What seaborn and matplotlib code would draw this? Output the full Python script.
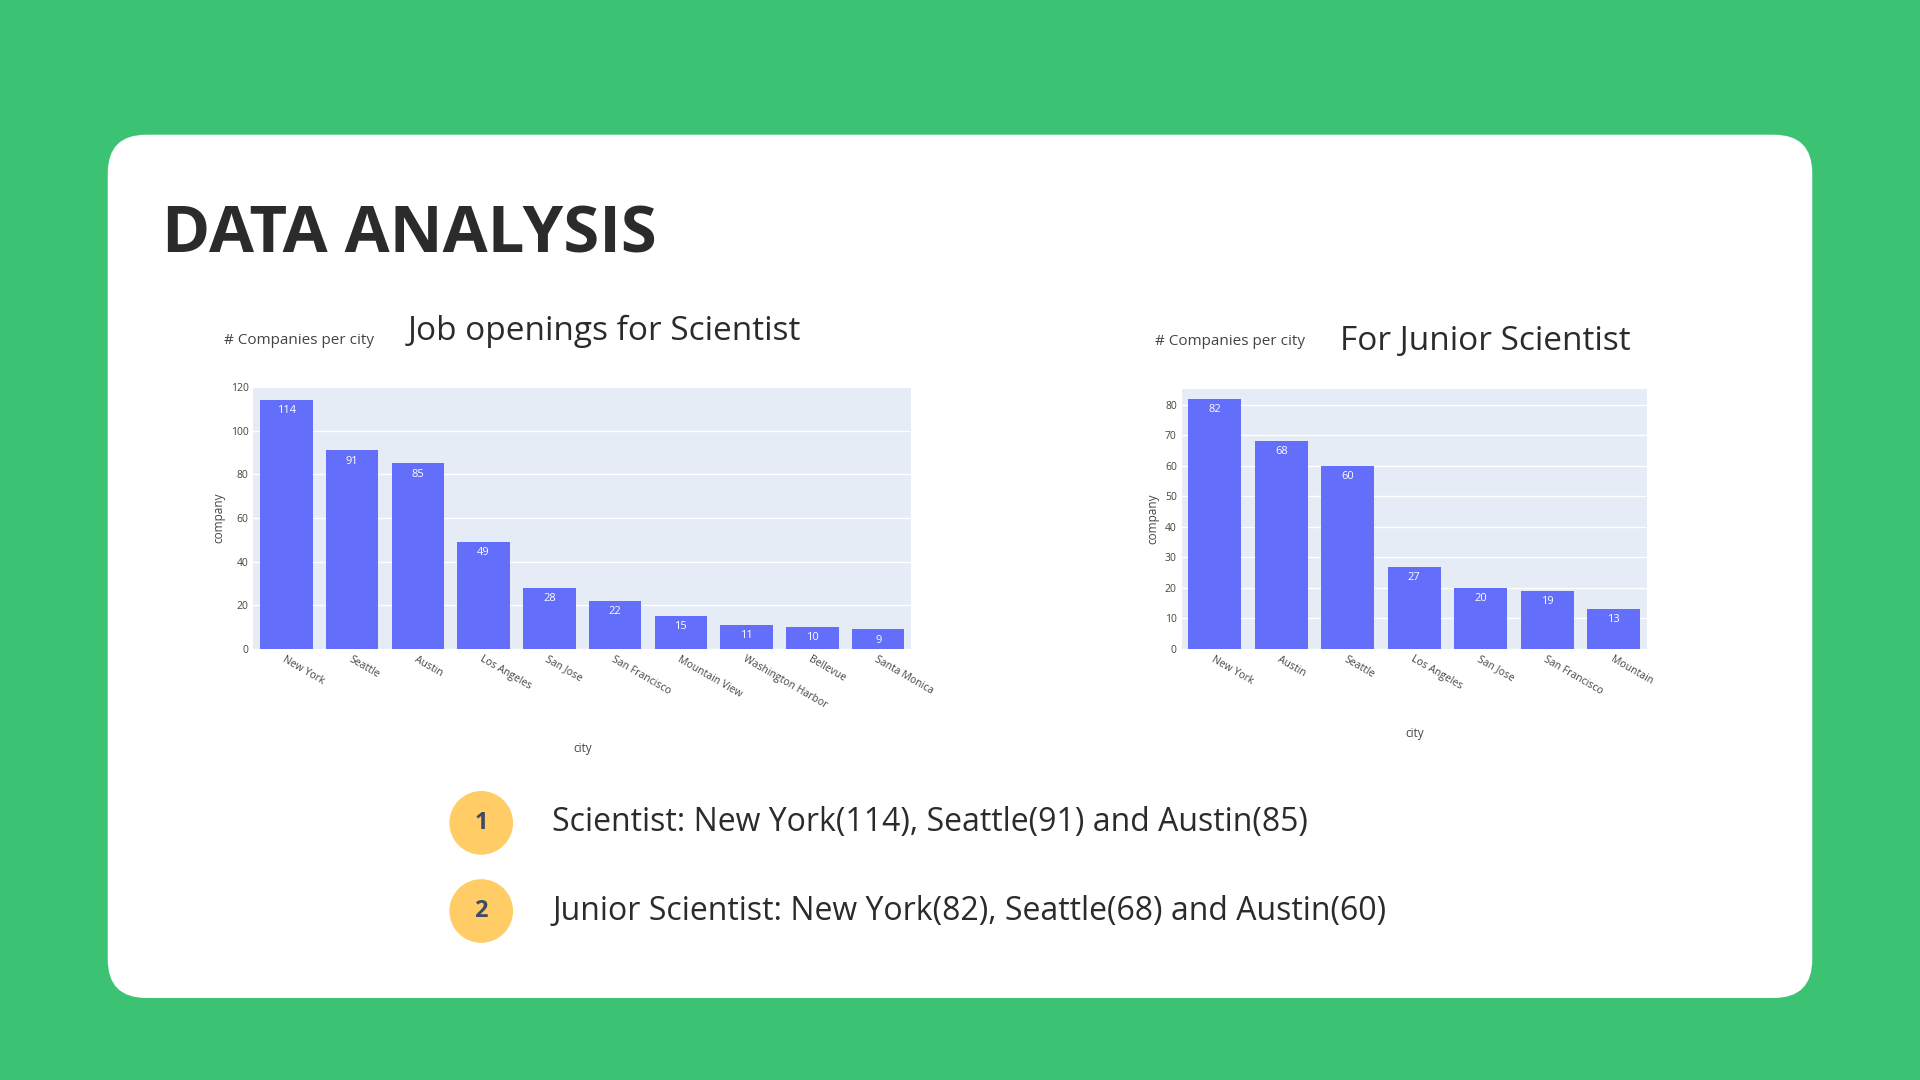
import matplotlib.pyplot as plt
import matplotlib.patches as mpatches
import pandas as pd
import seaborn as sns

# ── data ──
sci_cities = ["New York", "Seattle", "Austin", "Los Angeles", "San Jose", "San Francisco",
              "Mountain View", "Washington Harbor", "Bellevue", "Santa Monica"]
sci_counts = [114, 91, 85, 49, 28, 22, 15, 11, 10, 9]
jr_cities = ["New York", "Austin", "Seattle", "Los Angeles", "San Jose", "San Francisco", "Mountain"]
jr_counts = [82, 68, 60, 27, 20, 19, 13]
bullets = ["Scientist: New York(114), Seattle(91) and Austin(85)",
           "Junior Scientist: New York(82), Seattle(68) and Austin(60)"]

GREEN = "#3BC273"
BAR = "#636EFA"
W, H = 1568, 882  # reference layout units

plt.rcParams["font.family"] = ["Open Sans", "DejaVu Sans"]
fig = plt.figure(figsize=(19.2, 10.8), dpi=100)
fig.patch.set_facecolor(GREEN)

card = mpatches.FancyBboxPatch((88 / W, 1 - 815 / H), (1480 - 88) / W, (815 - 110) / H,
                               boxstyle="round,pad=0,rounding_size=0.02",
                               transform=fig.transFigure, facecolor="white",
                               edgecolor="none", mutation_aspect=W / H, zorder=-10)
fig.patches.append(card)

fig.text(132 / W, 1 - 193 / H, "DATA ANALYSIS", fontsize=47, fontweight="bold",
         color="#2b2b2b", va="center")


def bar_panel(rect, cities, counts, ymax, ticks, title, title_x, title_y, note_x, note_y):
    ax = fig.add_axes(rect)
    df = pd.DataFrame({"city": cities, "company": counts})
    sns.barplot(data=df, x="city", y="company", color=BAR, saturation=1, width=0.8, ax=ax, zorder=3)
    ax.set_facecolor("#E5ECF6")
    ax.set_ylim(0, ymax)
    ax.set_yticks(ticks)
    ax.grid(axis="y", color="white", linewidth=1, zorder=0)
    for s in ax.spines.values():
        s.set_visible(False)
    ax.tick_params(length=0, labelsize=7.5, colors="#444444")
    plt.setp(ax.get_xticklabels(), rotation=-30, ha="left", rotation_mode="anchor")
    ax.set_xlabel("city", fontsize=8.5, color="#444444", labelpad=22)
    ax.set_ylabel("company", fontsize=8.5, color="#444444")
    for i, v in enumerate(counts):
        ax.text(i, v - ymax * 0.02, str(v), ha="center", va="top", color="white", fontsize=8, zorder=4)
    fig.text(note_x / W, 1 - note_y / H, "# Companies per city", fontsize=11, color="#444444", va="center")
    fig.text(title_x / W, 1 - title_y / H, title, fontsize=24, color="#2b2b2b", va="center")
    return ax


bar_panel([207 / W, 1 - 530 / H, (744 - 207) / W, (530 - 316) / H], sci_cities, sci_counts,
          120, range(0, 121, 20), "Job openings for Scientist", 333, 271, 183, 278)
bar_panel([965 / W, 1 - 530 / H, (1345 - 965) / W, (530 - 318) / H], jr_cities, jr_counts,
          85, range(0, 81, 10), "For Junior Scientist", 1094, 279, 943, 279)

for i, (txt, cy) in enumerate(zip(bullets, [672, 744])):
    circ = mpatches.Ellipse((393 / W, 1 - cy / H), 52 / W, 52 / H, transform=fig.transFigure,
                            facecolor="#FFCC66", edgecolor="none")
    fig.patches.append(circ)
    fig.text(393 / W, 1 - cy / H, str(i + 1), ha="center", va="center", fontsize=17,
             fontweight="bold", color="#3d4a66")
    fig.text(451 / W, 1 - cy / H, txt, ha="left", va="center", fontsize=23, color="#2b2b2b")

fig.savefig("out.png", dpi=100, facecolor=GREEN)
